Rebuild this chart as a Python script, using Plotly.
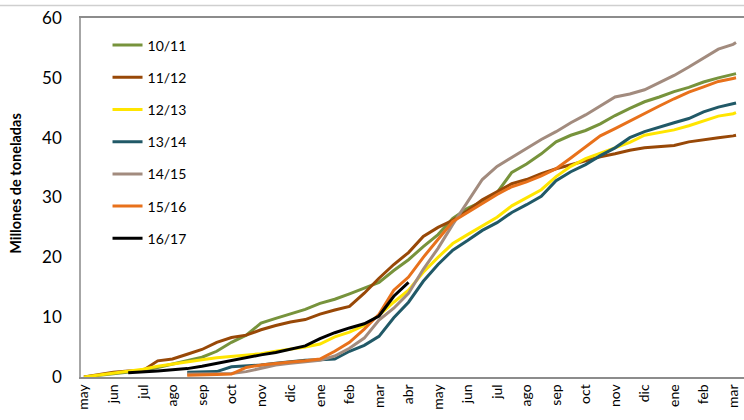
import plotly.graph_objects as go

# eje x: meses de campaña (índice de medio mes, 0 = may)
meses = ["may", "jun", "jul", "ago", "sep", "oct", "nov", "dic", "ene", "feb", "mar", "abr",
         "may", "jun", "jul", "ago", "sep", "oct", "nov", "dic", "ene", "feb", "mar"]
quincenas = [i * 0.5 for i in range(45)] + [22.1]

N = None
c_10_11 = [0, 0.3, 0.6, 0.9, 1.1, 1.6, 2.2, 2.7, 3.3, 4.3, 5.8, 7.0, 9.0, 9.8, 10.6, 11.3,
           12.3, 13.0, 13.9, 14.8, 15.8, 17.8, 19.6, 21.8, 23.8, 26.5, 28.2, 29.3, 30.8, 34.2,
           35.6, 37.3, 39.3, 40.4, 41.2, 42.3, 43.7, 44.9, 46.0, 46.8, 47.7, 48.4, 49.3, 50.0,
           50.5, 50.7]
c_11_12 = [0, 0.4, 0.8, 1.0, 1.1, 2.7, 3.0, 3.8, 4.6, 5.8, 6.6, 7.0, 7.9, 8.6, 9.2, 9.6,
           10.5, 11.2, 11.8, 14.0, 16.5, 18.8, 20.8, 23.5, 25.0, 26.2, 27.8, 29.6, 31.0, 32.3,
           33.0, 34.0, 34.8, 35.5, 36.2, 36.8, 37.3, 37.9, 38.3, 38.5, 38.7, 39.3, 39.7, 40.0,
           40.3, 40.4]
c_12_13 = [0, 0.3, 0.6, 0.9, 1.3, 1.8, 2.2, 2.6, 2.9, 3.2, 3.4, 3.6, 3.9, 4.3, 4.6, 5.0,
           5.5, 6.7, 7.5, 8.6, 10.3, 12.5, 14.5, 17.5, 20.0, 22.3, 23.8, 25.3, 26.7, 28.6,
           29.9, 31.3, 33.5, 35.2, 36.5, 37.4, 38.4, 39.2, 40.4, 40.9, 41.3, 42.0, 42.8, 43.6,
           44.0, 44.2]
c_13_14 = [N, N, N, N, N, N, N, 0.8, 0.8, 0.9, 1.7, 1.8, 2.0, 2.3, 2.6, 2.8,
           2.9, 3.0, 4.3, 5.3, 6.8, 9.9, 12.5, 16.0, 18.8, 21.2, 22.8, 24.5, 25.8, 27.5,
           28.8, 30.2, 32.8, 34.3, 35.5, 37.0, 38.3, 40.0, 41.0, 41.8, 42.5, 43.2, 44.3, 45.1,
           45.6, 45.8]
c_14_15 = [N, N, N, N, N, N, N, 0.5, 0.5, 0.5, 0.6, 0.9, 1.5, 2.0, 2.3, 2.5,
           2.8, 3.5, 4.8, 6.5, 9.5, 11.5, 14.0, 18.0, 21.5, 25.5, 29.3, 33.0, 35.2, 36.7,
           38.2, 39.7, 41.0, 42.5, 43.8, 45.3, 46.8, 47.3, 48.0, 49.2, 50.4, 51.8, 53.3, 54.8,
           55.6, 55.9]
c_15_16 = [N, N, N, N, N, N, N, 0.3, 0.3, 0.4, 0.5, 1.6, 2.0, 2.3, 2.5, 2.7,
           3.0, 4.3, 5.8, 8.0, 10.5, 14.5, 16.7, 20.0, 23.0, 26.0, 27.5, 29.0, 30.5, 31.8,
           32.6, 33.6, 34.8, 36.6, 38.5, 40.3, 41.5, 42.8, 44.0, 45.3, 46.5, 47.6, 48.5, 49.4,
           49.9, 50.0]
c_16_17 = [N, N, N, 0.7, 0.8, 1.0, 1.2, 1.4, 1.8, 2.3, 2.8, 3.3, 3.7, 4.1, 4.6, 5.2,
           6.4, 7.4, 8.2, 8.9, 10.2, 13.5, 15.8]

campanas = ["10/11", "11/12", "12/13", "13/14", "14/15", "15/16", "16/17"]
series = [c_10_11, c_11_12, c_12_13, c_13_14, c_14_15, c_15_16, c_16_17]
colores = ["#77933C", "#984807", "#FFE500", "#215967", "#A28B7E", "#E8711B", "#000000"]

fig = go.Figure()
for nombre, valores, color in zip(campanas, series, colores):
    fig.add_trace(go.Scatter(x=quincenas[:len(valores)], y=valores, name=nombre,
                             mode="lines", line=dict(color=color, width=3),
                             legendgroup=nombre))

fuente = "Lato, Open Sans, sans-serif"
fig.update_layout(
    width=744, height=420,
    margin=dict(l=81, r=0, t=18, b=43),
    paper_bgcolor="white", plot_bgcolor="white",
    font=dict(family=fuente, color="#000000"),
    showlegend=True,
    legend=dict(x=0.04, y=0.968, xanchor="left", yanchor="top",
                font=dict(size=14), tracegroupgap=11, bgcolor="rgba(0,0,0,0)"),
    xaxis=dict(range=[-0.1, 22.37], tickmode="array",
               tickvals=list(range(len(meses))), ticktext=meses,
               tickangle=-90, tickfont=dict(size=14), showgrid=False, zeroline=False,
               showline=True, linecolor="#8C8C8C", linewidth=1.5, mirror=True,
               ticks=""),
    yaxis=dict(range=[0, 60], dtick=10, showgrid=False, zeroline=False,
               showline=True, linecolor="#A6A6A6", linewidth=1.5,
               tickfont=dict(size=17), ticks="", ticklabelstandoff=14),
    annotations=[dict(text="<b>Millones de toneladas</b>", textangle=-90,
                      xref="paper", yref="paper", x=-0.1, y=0.54,
                      xanchor="center", yanchor="middle", showarrow=False,
                      font=dict(size=14.5, family=fuente))],
    shapes=[dict(type="line", xref="paper", yref="paper", x0=-0.13, x1=1.0,
                 y0=1.035, y1=1.035, line=dict(color="#CFCFCF", width=1.5))],
)

# sin margen del body para que el gráfico ocupe la ventana exacta
fig.write_html("out.html", config={"displayModeBar": False},
               post_script="document.body.style.margin='0';")
